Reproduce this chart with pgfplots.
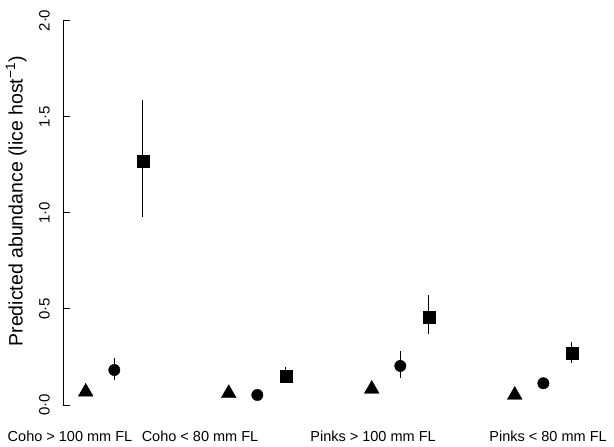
\documentclass[border=0pt]{standalone}
\usepackage{fontspec}
\setmainfont{Liberation Sans}
\usepackage{pgfplots}
\pgfplotsset{compat=1.18}
\begin{document}
\begin{tikzpicture}
\begin{axis}[
  at={(63pt,42pt)}, anchor=south west,
  scale only axis, width=551pt, height=384.5pt,
  xmin=0.641, xmax=4.494, ymin=0, ymax=2,
  clip=false,
  axis x line=bottom, axis y line=left,
  x axis line style={draw=none},
  y axis line style={-, line width=0.8pt},
  xtick={0.690,1.599,2.809,4.033},
  xticklabels={Coho > 100 mm FL, Coho < 80 mm FL, Pinks > 100 mm FL, Pinks < 80 mm FL},
  major x tick style={draw=none},
  xticklabel style={font=\fontsize{14.5}{17}\selectfont, anchor=north, inner sep=0pt, yshift=-26pt},
  ytick={0,0.5,1,1.5,2},
  yticklabels={0·0,0·5,1·0,1·5,2·0},
  tick align=inside, major tick length=7pt,
  y tick style={black, line width=0.8pt},
  yticklabel style={font=\fontsize{15}{17}\selectfont, inner sep=0pt, xshift=-13pt, rotate=90, anchor=south},
  ylabel={Predicted abundance (lice host\textsuperscript{−1})},
  ylabel style={font=\fontsize{19.5}{22}\selectfont, at={(axis description cs:-0.085,0.53)}, anchor=center, rotate=0},
]
% triangles
\addplot[only marks, mark=triangle*, mark size=8.5pt, black] coordinates {
  (0.8,0.068) (1.8,0.061) (2.8,0.083) (3.8,0.052)};
% circles
\addplot[only marks, mark=*, mark size=5.7pt, black,
  error bars/.cd, y dir=both, y explicit, error mark=none,
  error bar style={line width=1pt}] coordinates {
  (1,0.182) += (0,0.061) -= (0,0.052)
  (2,0.052) += (0,0.0) -= (0,0.0)
  (3,0.203) += (0,0.079) -= (0,0.064)
  (4,0.113) += (0,0.0) -= (0,0.0)};
% squares
\addplot[only marks, mark=square*, mark size=6pt, black,
  error bars/.cd, y dir=both, y explicit, error mark=none,
  error bar style={line width=1pt}] coordinates {
  (1.2,1.270) += (0,0.319) -= (0,0.294)
  (2.2,0.152) += (0,0.044) -= (0,0.034)
  (3.2,0.459) += (0,0.113) -= (0,0.092)
  (4.2,0.269) += (0,0.060) -= (0,0.049)};
\end{axis}
\pgfresetboundingbox
\path (0,0) rectangle (614pt,447pt);
\end{tikzpicture}
\end{document}
